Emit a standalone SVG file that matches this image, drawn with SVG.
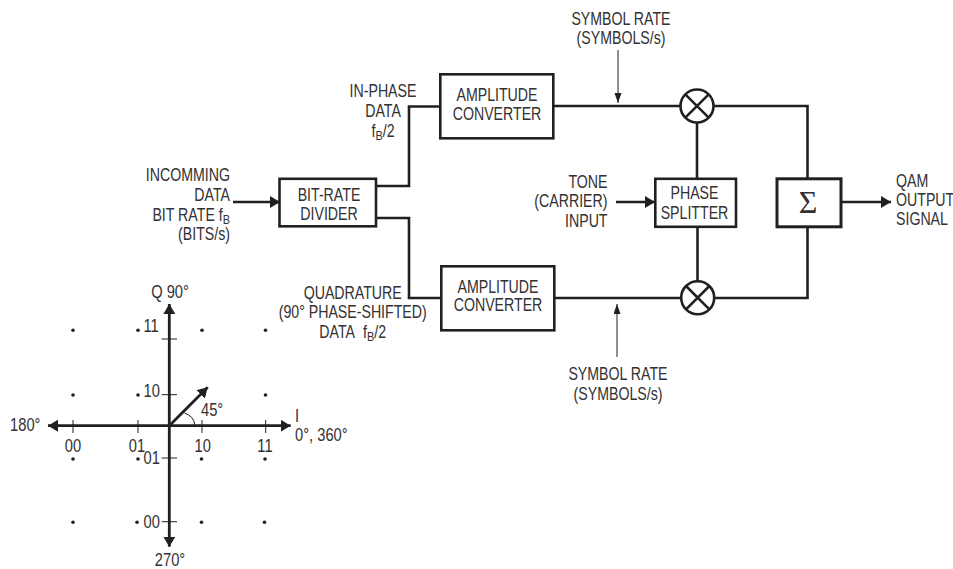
<svg xmlns="http://www.w3.org/2000/svg" width="953" height="569" viewBox="0 0 953 569">
<style>
text{font-family:"Liberation Sans",Arial,sans-serif;font-size:17.500px;fill:#333132}
.m{text-anchor:middle}.e{text-anchor:end}
.sub{font-size:13.500px}
.box{fill:#fff;stroke:#231f20;stroke-width:2.6}
.w{fill:none;stroke:#231f20;stroke-width:2.6}
.ax{fill:none;stroke:#231f20;stroke-width:2.8}
.t{fill:none;stroke:#231f20;stroke-width:1}
.th{fill:none;stroke:#231f20;stroke-width:1}
.dot{fill:#231f20}
</style>
<defs>
<marker id="a" markerUnits="userSpaceOnUse" markerWidth="11" markerHeight="12" refX="10" refY="6" orient="auto"><path d="M0 0L10 6L0 12Z" fill="#231f20"/></marker>
<marker id="s" markerUnits="userSpaceOnUse" markerWidth="11" markerHeight="8" refX="10" refY="3.500" orient="auto"><path d="M0 0L10 3.500L0 7Z" fill="#231f20"/></marker>
</defs>
<g id="connectors">
<path class="w" d="M233 202H280" marker-end="url(#a)"/>
<path class="w" d="M376 186H409V106.500H440"/>
<path class="w" d="M376 218H409V298H441"/>
<path class="w" d="M553 106H680"/>
<path class="w" d="M555 298H681"/>
<path class="w" d="M714 106H807.500V179"/>
<path class="w" d="M715 298H807.500V227"/>
<path class="w" d="M697 123V179"/>
<path class="w" d="M697.500 227V281"/>
<path class="w" d="M616 202H655" marker-end="url(#a)"/>
<path class="w" d="M841 202H891" marker-end="url(#a)"/>
<path class="th" d="M618 50V103" marker-end="url(#s)"/>
<path class="th" d="M617 357V304" marker-end="url(#s)"/>
</g>
<g id="amp1"><rect class="box" x="440.300" y="74.300" width="113" height="64"/><text class="m" transform="translate(497 100.700) scale(.81 1)">AMPLITUDE</text><text class="m" transform="translate(497 119.500) scale(.81 1)">CONVERTER</text></g>
<g id="amp2"><rect class="box" x="441.300" y="266.300" width="113" height="64"/><text class="m" transform="translate(498 292.500) scale(.81 1)">AMPLITUDE</text><text class="m" transform="translate(498 311) scale(.81 1)">CONVERTER</text></g>
<g id="divider"><rect class="box" x="279.500" y="178.800" width="96.500" height="47.500"/><text class="m" transform="translate(329 201) scale(.81 1)">BIT-RATE</text><text class="m" transform="translate(329 220.300) scale(.81 1)">DIVIDER</text></g>
<g id="splitter"><rect class="box" x="655.300" y="178.800" width="80.700" height="48"/><text class="m" transform="translate(694.500 199) scale(.81 1)">PHASE</text><text class="m" transform="translate(694.500 219) scale(.81 1)">SPLITTER</text></g>
<g id="sum"><rect class="box" x="777" y="178.800" width="64" height="48" style="stroke-width:3"/><text class="m" x="808" y="213" style="font-family:'Liberation Serif',serif;font-size:32px">Σ</text></g>
<g id="mixer1"><circle class="box" cx="697" cy="106" r="16.500"/><path class="w" d="M685.300 94.300L708.700 117.700M708.700 94.300L685.300 117.700"/></g>
<g id="mixer2"><circle class="box" cx="697.700" cy="297.700" r="16.500"/><path class="w" d="M686 286L709.400 309.400M709.400 286L686 309.400"/></g>
<g id="labels">
<text class="m" transform="translate(383 97.300) scale(.81 1)">IN-PHASE</text><text class="m" transform="translate(383 117) scale(.81 1)">DATA</text><text class="m" transform="translate(383 136.700) scale(.81 1)">f<tspan class="sub" dy="3">B</tspan><tspan dy="-3">/2</tspan></text>
<text class="e" transform="translate(230 180.700) scale(.81 1)">INCOMMING</text><text class="e" transform="translate(230 201) scale(.81 1)">DATA</text><text class="e" transform="translate(230 220.700) scale(.81 1)">BIT RATE f<tspan class="sub" dy="3">B</tspan></text><text class="e" transform="translate(230 239.500) scale(.81 1)">(BITS/s)</text>
<text class="m" transform="translate(352.700 299) scale(.81 1)">QUADRATURE</text><text class="m" transform="translate(352.700 318.300) scale(.81 1)">(90° PHASE-SHIFTED)</text><text class="m" transform="translate(352.700 338.300) scale(.81 1)">DATA <tspan dx="6">f</tspan><tspan class="sub" dy="3">B</tspan><tspan dy="-3">/2</tspan></text>
<text class="m" transform="translate(621 25.300) scale(.81 1)">SYMBOL RATE</text><text class="m" transform="translate(621 44.300) scale(.81 1)">(SYMBOLS/s)</text>
<text class="m" transform="translate(618 380) scale(.81 1)">SYMBOL RATE</text><text class="m" transform="translate(618 399.500) scale(.81 1)">(SYMBOLS/s)</text>
<text class="e" transform="translate(607.500 188.300) scale(.81 1)">TONE</text><text class="e" transform="translate(607.500 207) scale(.81 1)">(CARRIER)</text><text class="e" transform="translate(607.500 226.700) scale(.81 1)">INPUT</text>
<text transform="translate(896 187.300) scale(.81 1)">QAM</text><text transform="translate(896 206) scale(.81 1)">OUTPUT</text><text transform="translate(896 225.300) scale(.81 1)">SIGNAL</text>
</g>
<g id="constellation">
<path class="ax" d="M169.300 425.700V304" marker-end="url(#a)"/>
<path class="ax" d="M169.300 425.700V546.700" marker-end="url(#a)"/>
<path class="ax" d="M169.300 425.700H48" marker-end="url(#a)"/>
<path class="ax" d="M169.300 425.700H290.700" marker-end="url(#a)"/>
<path class="ax" d="M169.300 425.700L207.700 387.300" marker-end="url(#a)"/>
<path class="t" d="M73 420V433M138 420V433M202 420V433M265.700 420V433M161.700 339H177M161.700 394.700H177M161.700 458H177M161.700 521.700H177M195 425.700Q194 416 184.500 413"/>
<g class="dot"><circle cx="73" cy="330.300" r="1.800"/><circle cx="138" cy="330.300" r="1.800"/><circle cx="202" cy="330.300" r="1.800"/><circle cx="265.500" cy="330.300" r="1.800"/><circle cx="73" cy="395" r="1.800"/><circle cx="138" cy="395" r="1.800"/><circle cx="265.500" cy="395" r="1.800"/><circle cx="73" cy="459" r="1.800"/><circle cx="138" cy="459" r="1.800"/><circle cx="201.500" cy="459" r="1.800"/><circle cx="265" cy="459" r="1.800"/><circle cx="73" cy="522.300" r="1.800"/><circle cx="137" cy="522.300" r="1.800"/><circle cx="201.500" cy="522.300" r="1.800"/><circle cx="264.500" cy="522.300" r="1.800"/></g>
<text class="m" transform="translate(170 298.300) scale(.84 1)">Q 90°</text><text class="m" transform="translate(170 566) scale(.84 1)">270°</text>
<text class="e" transform="translate(40.500 431.300) scale(.84 1)">180°</text><text transform="translate(295 421.700) scale(.84 1)">I</text><text transform="translate(295 440.700) scale(.84 1)">0°, 360°</text>
<text class="m" transform="translate(73 452) scale(.84 1)">00</text><text class="m" transform="translate(137 452) scale(.84 1)">01</text><text class="m" transform="translate(202.700 452) scale(.84 1)">10</text><text class="m" transform="translate(265 452) scale(.84 1)">11</text>
<text transform="translate(143.500 332.300) scale(.84 1)">11</text><text transform="translate(143.500 397) scale(.84 1)">10</text><text transform="translate(143.500 464) scale(.84 1)">01</text><text transform="translate(143.500 527.700) scale(.84 1)">00</text>
<text transform="translate(201 415.700) scale(.84 1)">45°</text>
</g>
</svg>
